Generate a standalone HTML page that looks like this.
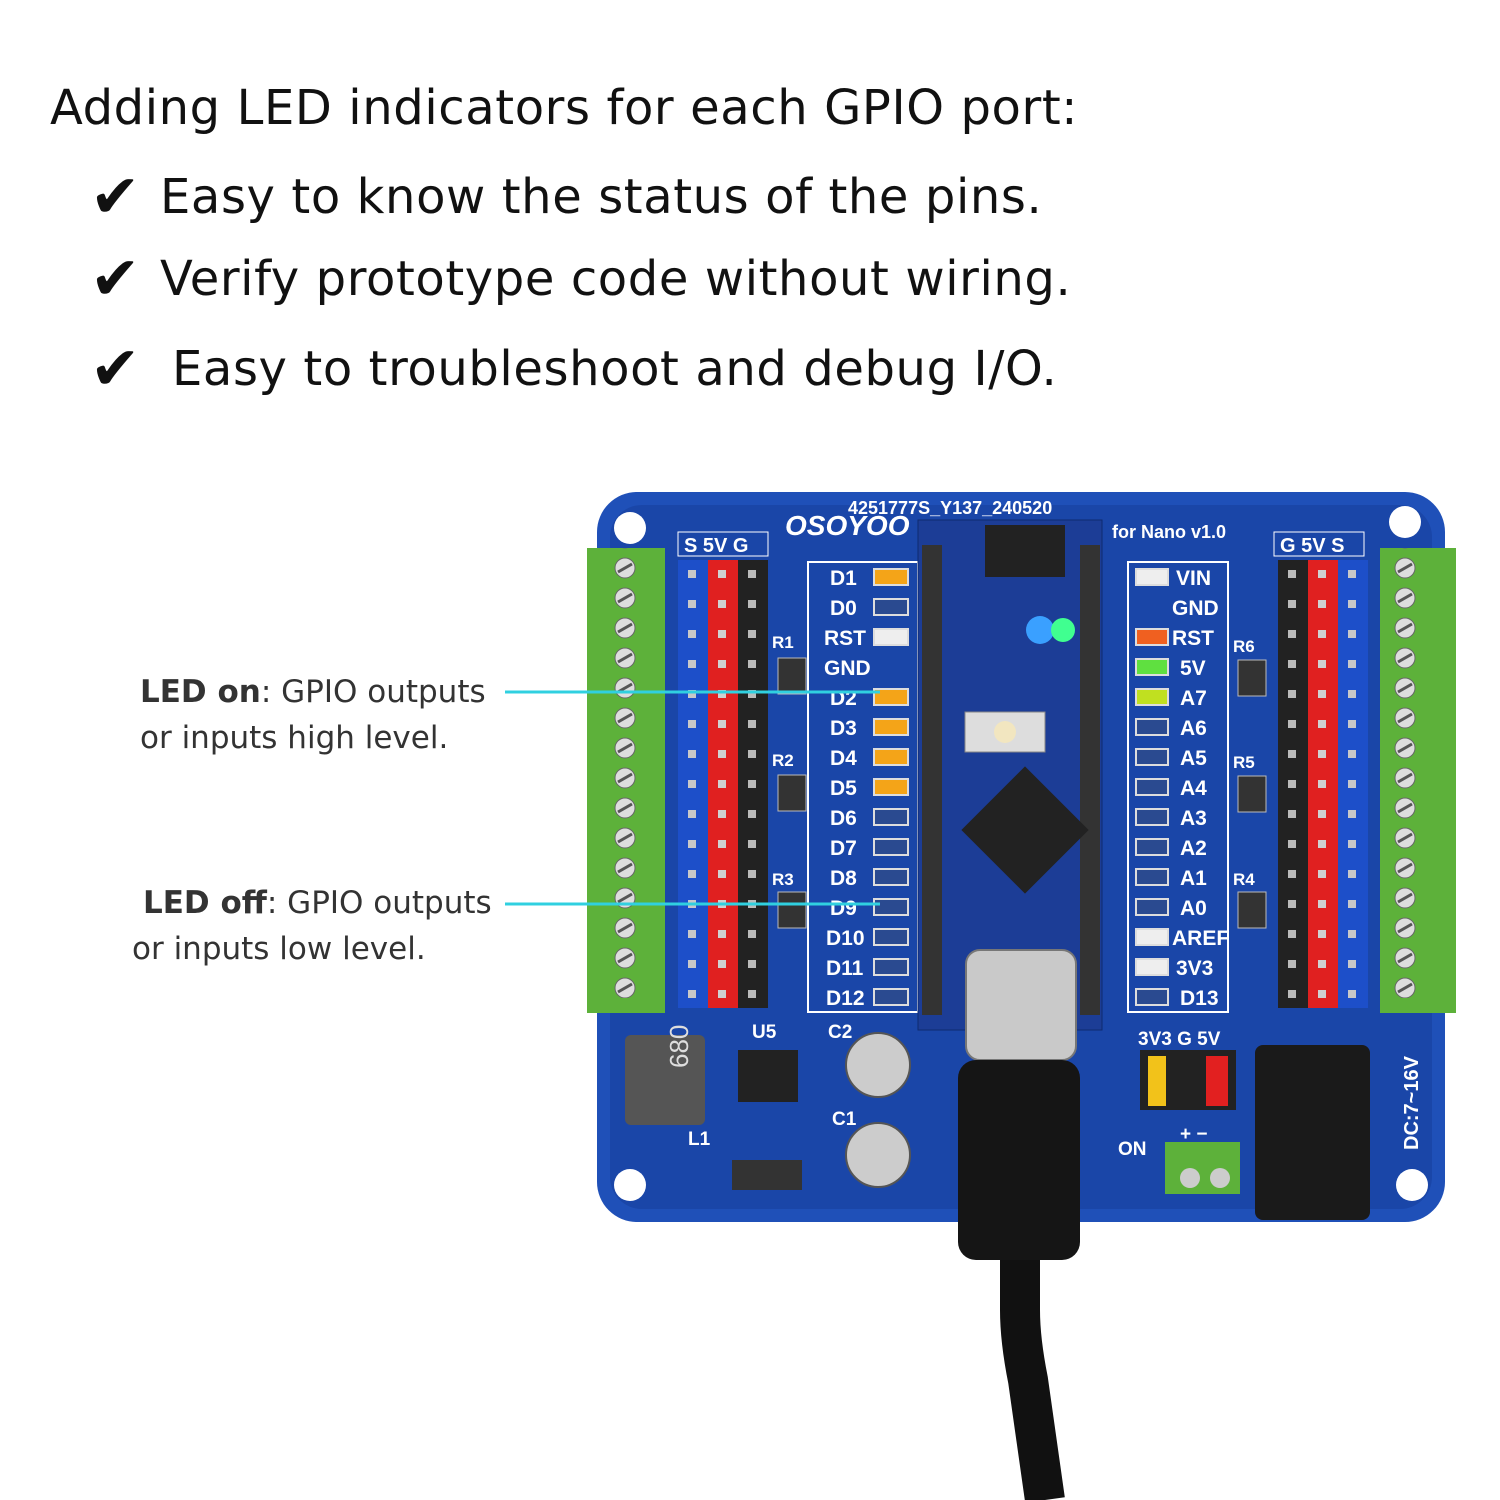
<!DOCTYPE html>
<html><head><meta charset="utf-8"><style>
html,body{margin:0;padding:0;background:#fff;}
.t{position:absolute;font-family:"DejaVu Sans","Liberation Sans",sans-serif;color:#111;white-space:nowrap;}
.ck{display:inline-block;width:70px;font-size:60px;vertical-align:-4px;}
</style></head><body>
<div style="position:relative;width:1500px;height:1500px;overflow:hidden;background:#fff">
<div class="t" style="left:50px;top:80px;font-size:48px;letter-spacing:0.6px;">Adding LED indicators for each GPIO port:</div>
<div class="t" style="left:90px;top:162px;font-size:48px;letter-spacing:0.6px;"><span class="ck">✔</span>Easy to know the status of the pins.</div>
<div class="t" style="left:90px;top:244px;font-size:48px;letter-spacing:0.6px;"><span class="ck">✔</span>Verify prototype code without wiring.</div>
<div class="t" style="left:90px;top:334px;font-size:48px;letter-spacing:0.6px;"><span class="ck" style="width:82px">✔</span>Easy to troubleshoot and debug I/O.</div>

<svg width="1500" height="1500" style="position:absolute;left:0;top:0">
<defs>
<pattern id="pb" x="678" y="560" width="30" height="30" patternUnits="userSpaceOnUse"><rect width="30" height="30" fill="#1d4fc9"/><rect x="10" y="10" width="8" height="8" fill="#c8c8c8"/></pattern>
<pattern id="pr" x="708" y="560" width="30" height="30" patternUnits="userSpaceOnUse"><rect width="30" height="30" fill="#e02020"/><rect x="10" y="10" width="8" height="8" fill="#d0d0d0"/></pattern>
<pattern id="pk" x="738" y="560" width="30" height="30" patternUnits="userSpaceOnUse"><rect width="30" height="30" fill="#222"/><rect x="10" y="10" width="8" height="8" fill="#bbb"/></pattern>
<pattern id="tg" x="587" y="553" width="78" height="30" patternUnits="userSpaceOnUse"><rect width="78" height="30" fill="#5db13a"/><circle cx="38" cy="15" r="10" fill="#ddd" stroke="#666"/><line x1="31" y1="19" x2="45" y2="11" stroke="#555" stroke-width="3"/></pattern>
</defs>
<rect x="597" y="492" width="848" height="730" rx="40" fill="#1f50b8"/>
<rect x="610" y="505" width="822" height="704" rx="32" fill="#1a46a8"/>
<circle cx="630" cy="528" r="16" fill="#fff"/><circle cx="1405" cy="522" r="16" fill="#fff"/>
<circle cx="630" cy="1185" r="16" fill="#fff"/><circle cx="1412" cy="1185" r="16" fill="#fff"/>
<rect x="587" y="548" width="78" height="465" fill="url(#tg)"/>
<rect x="1380" y="548" width="76" height="465" fill="url(#tg)"/>
<rect x="587" y="998" width="78" height="15" fill="#5db13a"/><rect x="1380" y="998" width="76" height="15" fill="#5db13a"/>
<rect x="678" y="560" width="30" height="448" fill="url(#pb)"/>
<rect x="708" y="560" width="30" height="448" fill="url(#pr)"/>
<rect x="738" y="560" width="30" height="448" fill="url(#pk)"/>
<rect x="1278" y="560" width="30" height="448" fill="url(#pk)"/>
<rect x="1308" y="560" width="30" height="448" fill="url(#pr)"/>
<rect x="1338" y="560" width="30" height="448" fill="url(#pb)"/>
<g font-family="Liberation Sans,sans-serif" font-size="20" fill="#fff" font-weight="bold">
<rect x="678" y="532" width="90" height="24" fill="none" stroke="#fff"/><text x="684" y="552">S 5V G</text>
<rect x="1274" y="532" width="90" height="24" fill="none" stroke="#fff"/><text x="1280" y="552">G 5V S</text>
<text x="785" y="535" font-size="28" font-style="italic">OSOYOO</text>
<text x="848" y="514" font-size="18">4251777S_Y137_240520</text>
<text x="1112" y="538" font-size="18">for Nano v1.0</text>
<text x="772" y="648" font-size="17">R1</text><text x="772" y="766" font-size="17">R2</text><text x="772" y="885" font-size="17">R3</text>
<text x="1233" y="652" font-size="17">R6</text><text x="1233" y="768" font-size="17">R5</text><text x="1233" y="885" font-size="17">R4</text>
</g>
<rect x="808" y="562" width="110" height="450" fill="none" stroke="#fff" stroke-width="2"/>
<rect x="1128" y="562" width="100" height="450" fill="none" stroke="#fff" stroke-width="2"/>
<g font-family="Liberation Sans,sans-serif" font-size="21" fill="#fff" font-weight="bold">
<text x="830" y="585">D1</text><text x="830" y="615">D0</text><text x="824" y="645">RST</text><text x="824" y="675">GND</text>
<text x="830" y="705">D2</text><text x="830" y="735">D3</text><text x="830" y="765">D4</text><text x="830" y="795">D5</text>
<text x="830" y="825">D6</text><text x="830" y="855">D7</text><text x="830" y="885">D8</text><text x="830" y="915">D9</text>
<text x="826" y="945">D10</text><text x="826" y="975">D11</text><text x="826" y="1005">D12</text>
<text x="1176" y="585">VIN</text><text x="1172" y="615">GND</text><text x="1172" y="645">RST</text><text x="1180" y="675">5V</text>
<text x="1180" y="705">A7</text><text x="1180" y="735">A6</text><text x="1180" y="765">A5</text><text x="1180" y="795">A4</text>
<text x="1180" y="825">A3</text><text x="1180" y="855">A2</text><text x="1180" y="885">A1</text><text x="1180" y="915">A0</text>
<text x="1172" y="945">AREF</text><text x="1176" y="975">3V3</text><text x="1180" y="1005">D13</text>
</g>
<g stroke="#ddd" stroke-width="2">
<rect x="874" y="569" width="34" height="16" fill="#f4a418"/>
<rect x="874" y="599" width="34" height="16" fill="#2a4a90"/>
<rect x="874" y="629" width="34" height="16" fill="#eee"/>
<rect x="874" y="689" width="34" height="16" fill="#f4a418"/>
<rect x="874" y="719" width="34" height="16" fill="#f4a418"/>
<rect x="874" y="749" width="34" height="16" fill="#f4a418"/>
<rect x="874" y="779" width="34" height="16" fill="#f4a418"/>
<rect x="874" y="809" width="34" height="16" fill="#2a4a90"/>
<rect x="874" y="839" width="34" height="16" fill="#2a4a90"/>
<rect x="874" y="869" width="34" height="16" fill="#2a4a90"/>
<rect x="874" y="899" width="34" height="16" fill="#2a4a90"/>
<rect x="874" y="929" width="34" height="16" fill="#2a4a90"/>
<rect x="874" y="959" width="34" height="16" fill="#2a4a90"/>
<rect x="874" y="989" width="34" height="16" fill="#2a4a90"/>
<rect x="1136" y="569" width="32" height="16" fill="#eee"/>
<rect x="1136" y="629" width="32" height="16" fill="#f06020"/>
<rect x="1136" y="659" width="32" height="16" fill="#5fe040"/>
<rect x="1136" y="689" width="32" height="16" fill="#c0e020"/>
<rect x="1136" y="719" width="32" height="16" fill="#2a4a90"/>
<rect x="1136" y="749" width="32" height="16" fill="#2a4a90"/>
<rect x="1136" y="779" width="32" height="16" fill="#2a4a90"/>
<rect x="1136" y="809" width="32" height="16" fill="#2a4a90"/>
<rect x="1136" y="839" width="32" height="16" fill="#2a4a90"/>
<rect x="1136" y="869" width="32" height="16" fill="#2a4a90"/>
<rect x="1136" y="899" width="32" height="16" fill="#2a4a90"/>
<rect x="1136" y="929" width="32" height="16" fill="#eee"/>
<rect x="1136" y="959" width="32" height="16" fill="#eee"/>
<rect x="1136" y="989" width="32" height="16" fill="#2a4a90"/>
</g>
<g fill="#333" stroke="#bbb"><rect x="778" y="658" width="28" height="36"/><rect x="778" y="775" width="28" height="36"/><rect x="778" y="892" width="28" height="36"/>
<rect x="1238" y="660" width="28" height="36"/><rect x="1238" y="776" width="28" height="36"/><rect x="1238" y="892" width="28" height="36"/></g>
<rect x="918" y="520" width="184" height="510" fill="#1c3d96" stroke="#0e2a70"/>
<g fill="#333"><rect x="922" y="545" width="20" height="470"/><rect x="1080" y="545" width="20" height="470"/></g>
<rect x="985" y="525" width="80" height="52" fill="#222"/>
<circle cx="1040" cy="630" r="14" fill="#3aa0ff"/><circle cx="1063" cy="630" r="12" fill="#40ff90"/>
<rect x="965" y="712" width="80" height="40" fill="#ddd" stroke="#888"/><circle cx="1005" cy="732" r="11" fill="#f2e6c0"/>
<rect x="980" y="785" width="90" height="90" fill="#222" transform="rotate(45 1025 830)"/>
<rect x="625" y="1035" width="80" height="90" rx="6" fill="#555"/><text x="680" y="1100" transform="rotate(-90 668 1080)" font-family="Liberation Sans" font-size="26" fill="#ddd">680</text>
<rect x="738" y="1050" width="60" height="52" fill="#222"/>
<circle cx="878" cy="1065" r="32" fill="#ccc" stroke="#555" stroke-width="2"/>
<circle cx="878" cy="1155" r="32" fill="#ccc" stroke="#555" stroke-width="2"/>
<rect x="732" y="1160" width="70" height="30" fill="#333"/>
<rect x="1140" y="1050" width="36" height="60" fill="#222"/><rect x="1148" y="1056" width="18" height="50" fill="#f2c21a"/>
<rect x="1176" y="1050" width="60" height="60" fill="#222"/><rect x="1206" y="1056" width="22" height="50" fill="#e22020"/>
<rect x="1165" y="1142" width="75" height="52" fill="#5db13a"/><circle cx="1190" cy="1178" r="10" fill="#ccc"/><circle cx="1220" cy="1178" r="10" fill="#ccc"/>
<rect x="1255" y="1045" width="115" height="175" rx="8" fill="#1a1a1a"/>
<text x="1418" y="1150" transform="rotate(-90 1418 1150)" font-family="Liberation Sans" font-size="20" fill="#fff" font-weight="bold">DC:7~16V</text>
<g font-family="Liberation Sans,sans-serif" font-size="19" fill="#fff" font-weight="bold">
<text x="752" y="1038">U5</text><text x="828" y="1038">C2</text><text x="832" y="1125">C1</text><text x="688" y="1145">L1</text>
<text x="1138" y="1045">3V3 G 5V</text><text x="1180" y="1140">+ −</text><text x="1118" y="1155">ON</text>
</g>
<rect x="966" y="950" width="110" height="110" rx="14" fill="#c9c9c9" stroke="#777" stroke-width="2"/>
<rect x="958" y="1060" width="122" height="200" rx="18" fill="#151515"/>
<path d="M1020 1260 L1020 1310 Q1020 1340 1028 1380 L1045 1500" stroke="#111" stroke-width="40" fill="none"/>
<line x1="505" y1="692" x2="880" y2="692" stroke="#30d0e0" stroke-width="3"/>
<line x1="505" y1="904" x2="880" y2="904" stroke="#30d0e0" stroke-width="3"/>
</svg>
<div class="t" style="left:140px;top:674px;font-size:31px;color:#333"><b>LED on</b>: GPIO outputs</div>
<div class="t" style="left:140px;top:720px;font-size:31px;color:#333">or inputs high level.</div>
<div class="t" style="left:143px;top:885px;font-size:31px;color:#333"><b>LED off</b>: GPIO outputs</div>
<div class="t" style="left:132px;top:931px;font-size:31px;color:#333">or inputs low level.</div>
</div>
</body></html>
